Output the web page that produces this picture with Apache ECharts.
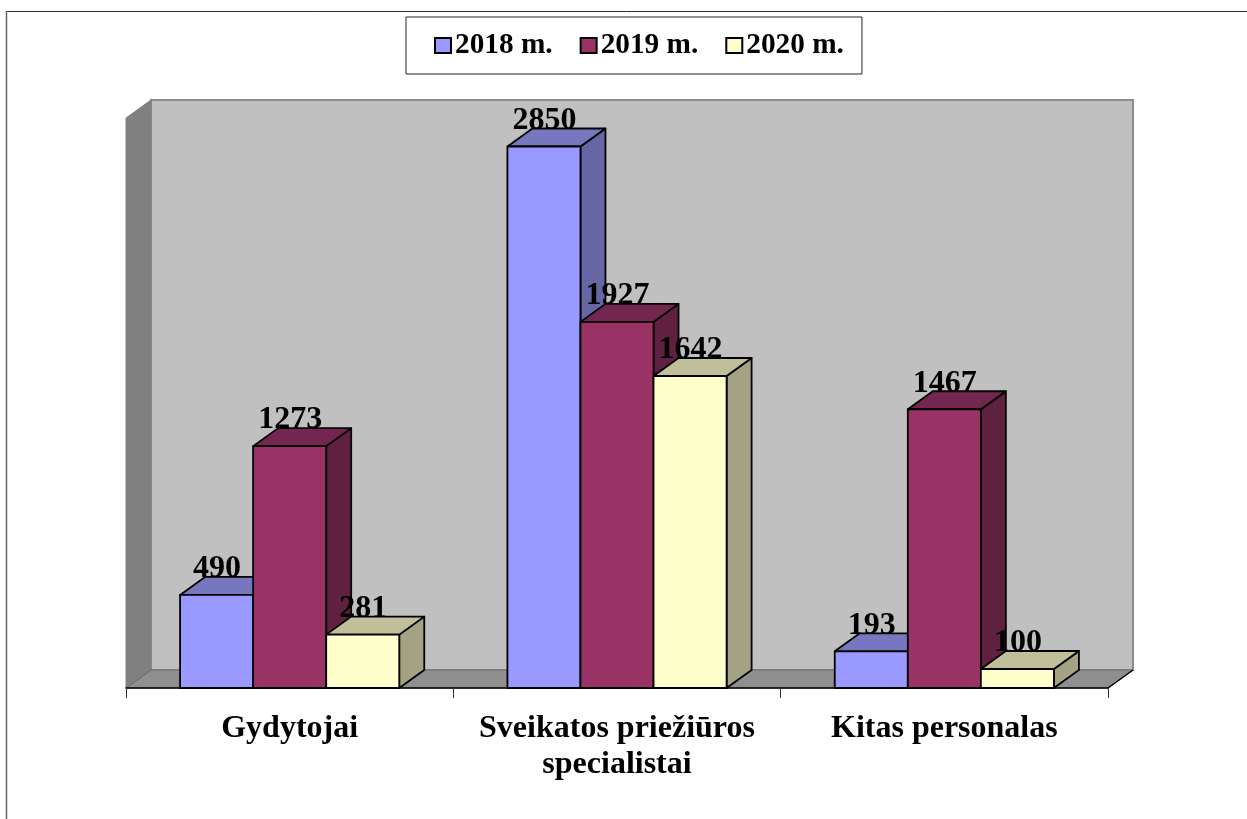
<!DOCTYPE html>
<html>
<head>
<meta charset="utf-8">
<style>
html,body{margin:0;padding:0;background:#fff}
#chart{width:1247px;height:819px}
</style>
<script src="https://cdn.jsdelivr.net/npm/echarts@6/dist/echarts.min.js"></script>
</head>
<body>
<div id="chart"></div>
<script>
var categories=['Gydytojai','Sveikatos priežiūros\nspecialistai','Kitas personalas'];
var years=['2018 m.','2019 m.','2020 m.'];
var values2018=[490,2850,193];
var values2019=[1273,1927,1467];
var values2020=[281,1642,100];
var maxValue=3000;

var allValues=[values2018,values2019,values2020];
var frontColors=['#9999ff','#993366','#ffffcc'];
var topColors=['#7777bf','#73264f','#bfbf99'];
var sideColors=['#6666a5','#602040','#a3a383'];
var serif="'Liberation Serif','Times New Roman',serif";
// 3d depth of the box, in pixels
var depthX=25,depthY=18;

var myChart=echarts.init(document.getElementById('chart'),null,{renderer:'canvas'});

//back wall, left wall and floor
function renderWalls(params){
  var r=params.coordSys;
  var x0=r.x,x1=r.x+r.width,y0=r.y,y1=r.y+r.height;
  return {type:'group',silent:true,children:[
    {type:'polygon',shape:{points:[[x0+depthX,y0-depthY],[x1+depthX,y0-depthY],[x1+depthX,y1-depthY],[x0+depthX,y1-depthY]]},
      style:{fill:'#c0c0c0',stroke:'#8c8c8c',lineWidth:2}},
    {type:'polygon',shape:{points:[[x0,y0],[x0+depthX,y0-depthY],[x0+depthX,y1-depthY],[x0,y1]]},
      style:{fill:'#808080',stroke:'#808080',lineWidth:1}},
    {type:'polygon',shape:{points:[[x0,y1],[x0+depthX,y1-depthY],[x1+depthX,y1-depthY],[x1,y1]]},
      style:{fill:'#8f8f8f',stroke:'#6e6e6e',lineWidth:1}},
    {type:'line',shape:{x1:x1,y1:y1,x2:x1+depthX,y2:y1-depthY},style:{stroke:'#000',lineWidth:1.5}},
    {type:'line',shape:{x1:x0,y1:y1,x2:x0+depthX,y2:y1-depthY},style:{stroke:'#6e6e6e',lineWidth:1}}
  ]};
}

function makeBox(idx){
  return function(params,api){
    var cat=api.value(0),val=api.value(1);
    var top=api.coord([cat,val]);
    var base=api.coord([cat,0]);
    var w=api.size([1,0])[0]*0.2232;
    var left=top[0]+(idx-1.5)*w;
    var right=left+w;
    var line={stroke:'#000',lineWidth:1.8,lineJoin:'round'};
    function poly(pts,fill){
      return {type:'polygon',shape:{points:pts},style:{fill:fill,stroke:line.stroke,lineWidth:line.lineWidth,lineJoin:line.lineJoin}};
    }
    return {type:'group',children:[
      poly([[right,top[1]],[right+depthX,top[1]-depthY],[right+depthX,base[1]-depthY],[right,base[1]]],sideColors[idx]),
      poly([[left,top[1]],[left+depthX,top[1]-depthY],[right+depthX,top[1]-depthY],[right,top[1]]],topColors[idx]),
      poly([[left,top[1]],[right,top[1]],[right,base[1]],[left,base[1]]],frontColors[idx]),
      {type:'text',z2:100,style:{text:String(val),x:(left+right)/2+0.5,y:top[1]-10,align:'center',verticalAlign:'bottom',
        fill:'#000',font:'bold 32px '+serif}}
    ]};
  };
}

var series=[{
  name:'walls',type:'custom',z:1,silent:true,data:[[0,0]],encode:{x:0,y:1},renderItem:renderWalls
}];
years.forEach(function(name,i){
  series.push({
    name:name,
    type:'custom',
    z:2+i,
    silent:true,
    itemStyle:{color:frontColors[i],borderColor:'#000',borderWidth:2},
    data:allValues[i].map(function(v,k){return [k,v]}),
    encode:{x:0,y:1},
    renderItem:makeBox(i)
  });
});

var option={
  animation:false,
  backgroundColor:'#fff',
  legend:{
    data:years,
    left:406,
    top:17,
    orient:'horizontal',
    padding:[14,18,14,28],
    itemWidth:16,
    itemHeight:15,
    itemGap:27,
    icon:'rect',
    selectedMode:false,
    backgroundColor:'#fff',
    borderColor:'#222',
    borderWidth:1,
    textStyle:{fontFamily:serif,fontWeight:'bold',fontSize:29.3,color:'#000',padding:[0,0,0,-1]}
  },
  grid:{left:126,right:139,top:118,bottom:131,containLabel:false},
  xAxis:{
    type:'category',
    data:categories,
    z:6,
    axisLine:{lineStyle:{color:'#000',width:1.5}},
    axisTick:{show:true,length:10,lineStyle:{color:'#333',width:1}},
    axisLabel:{interval:0,margin:23,lineHeight:36,
      fontFamily:serif,fontWeight:'bold',fontSize:32,color:'#000'}
  },
  yAxis:{type:'value',min:0,max:maxValue,show:false},
  series:series,
  graphic:[
    //outer frame, cut by the page on the right and bottom
    {type:'line',shape:{x1:6,y1:11.5,x2:1247,y2:11.5},style:{stroke:'#333',lineWidth:1}},
    {type:'line',shape:{x1:6.5,y1:11,x2:6.5,y2:819},style:{stroke:'#666',lineWidth:1.5}}
  ]
};
myChart.setOption(option);
</script>
</body>
</html>
